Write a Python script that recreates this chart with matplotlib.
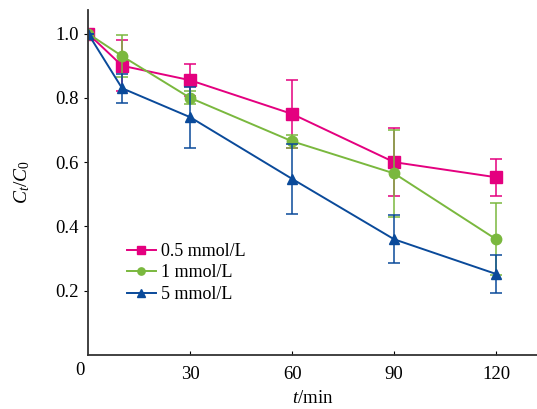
import matplotlib
matplotlib.use('Agg')
import matplotlib.pyplot as plt

# 数据
t = [0, 10, 30, 60, 90, 120]
labels = ['0.5 mmol/L', '1 mmol/L', '5 mmol/L']
c05 = [1.0, 0.90, 0.855, 0.75, 0.60, 0.553]
c05_err = [0, 0.08, 0.05, 0.105, 0.105, 0.058]
c1 = [1.0, 0.93, 0.80, 0.665, 0.565, 0.36]
c1_err = [0, 0.065, 0.02, 0.02, 0.135, 0.112]
c5 = [1.0, 0.83, 0.74, 0.548, 0.36, 0.252]
c5_err = [0, 0.045, 0.095, 0.11, 0.075, 0.058]

plt.rcParams['font.family'] = 'Liberation Serif'
plt.rcParams['mathtext.fontset'] = 'custom'
plt.rcParams['mathtext.rm'] = 'Liberation Serif'
plt.rcParams['mathtext.it'] = 'Liberation Serif:italic'

fig = plt.figure(figsize=(5.37, 4.09), dpi=100)
ax = fig.add_axes([0.164, 0.132, 0.836, 0.844])

styles = [('#E4007F', 's', 8.5), ('#7AB83E', 'o', 7.5), ('#0A4A9A', '^', 7.5)]
for y, e, lab, (col, mk, ms) in zip([c05, c1, c5], [c05_err, c1_err, c5_err], labels, styles):
    ax.errorbar(t, y, yerr=e, fmt='none', elinewidth=1.1, capsize=4,
                capthick=1.1, ecolor=col)
    ax.plot(t, y, color=col, marker=mk, markersize=ms, lw=1.4, label=lab)

ax.set_xlim(0, 132)
ax.set_ylim(0, 1.074)
ax.set_xticks([30, 60, 90, 120])
ax.set_yticks([0.2, 0.4, 0.6, 0.8, 1.0])
ax.set_yticklabels(['0.2', '0.4', '0.6', '0.8', '1.0'])
ax.tick_params(axis='x', direction='in', length=3, labelsize=13.5, pad=8)
ax.tick_params(axis='y', direction='out', length=3, labelsize=13.5)
ax.annotate('0', xy=(0, 0), xycoords='data', xytext=(-6, -11),
            textcoords='offset points', ha='center', va='center', fontsize=13.5)
for s in ['top', 'right']:
    ax.spines[s].set_visible(False)
for s in ['left', 'bottom']:
    ax.spines[s].set_linewidth(1.3)
    ax.spines[s].set_color('#333333')

ax.set_xlabel('$t$/min', fontsize=13.5, labelpad=5)
ax.set_ylabel('$C_t/C_0$', fontsize=14, labelpad=17)

ax.legend(loc='lower left', bbox_to_anchor=(0.07, 0.13), frameon=False, fontsize=13,
          handlelength=1.6, handletextpad=0.3, labelspacing=0.25, markerscale=0.7,
          borderaxespad=0)

fig.savefig('out.png', dpi=100)
